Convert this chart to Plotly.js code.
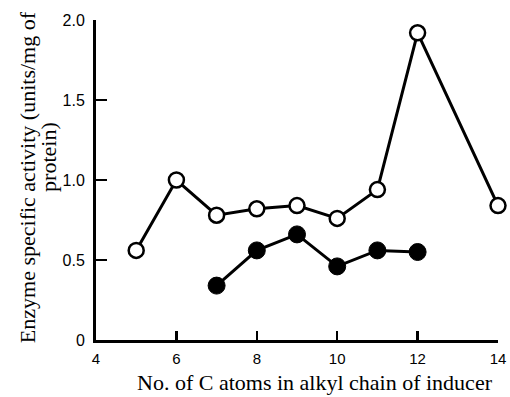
<!DOCTYPE html>
<html>
<head>
<meta charset="utf-8">
<script src="https://cdn.plot.ly/plotly-3.0.1.min.js"></script>
<style>html,body{margin:0;padding:0;background:#fff;}#chart{width:510px;height:397px;}</style>
</head>
<body>
<div id="chart"></div>
<script>
var openX = [5, 6, 7, 8, 9, 10, 11, 12, 14];
var openY = [0.56, 1.00, 0.78, 0.82, 0.84, 0.76, 0.94, 1.92, 0.84];
var filledX = [7, 8, 9, 10, 11, 12];
var filledY = [0.34, 0.56, 0.66, 0.46, 0.56, 0.55];
var xTicks = [4, 6, 8, 10, 12, 14];
var xTickText = ['4', '6', '8', '10', '12', '14'];
var yTicks = [0, 0.5, 1.0, 1.5, 2.0];
var yTickText = ['0', '0.5', '1.0', '1.5', '2.0'];
var xTitle = 'No. of C atoms in alkyl chain of inducer';
var yTitleLine1 = 'Enzyme specific activity (units/mg of';
var yTitleLine2 = 'protein)';

var serif = 'Liberation Serif, Times New Roman, serif';
var sans = 'Liberation Sans, Arial, sans-serif';

var traces = [
  {x: openX, y: openY, mode: 'lines+markers', type: 'scatter',
   line: {color: '#000', width: 3},
   marker: {symbol: 'circle', size: 15, color: '#fff', line: {color: '#000', width: 2.5}},
   showlegend: false, cliponaxis: false},
  {x: filledX, y: filledY, mode: 'lines+markers', type: 'scatter',
   line: {color: '#000', width: 3},
   marker: {symbol: 'circle', size: 17, color: '#000', line: {color: '#000', width: 1}},
   showlegend: false, cliponaxis: false}
];

var layout = {
  width: 510, height: 397,
  margin: {l: 96, r: 12, t: 20, b: 57},
  paper_bgcolor: '#fff', plot_bgcolor: '#fff',
  showlegend: false,
  xaxis: {
    range: [4, 14], tickvals: xTicks, ticktext: xTickText,
    showgrid: false, zeroline: false, showline: true, linecolor: '#000', linewidth: 3,
    ticks: 'inside', ticklen: 9, tickwidth: 2.5, tickcolor: '#000',
    ticklabelstandoff: 3,
    tickfont: {family: sans, size: 15, color: '#000'},
    fixedrange: true
  },
  yaxis: {
    range: [0, 2.0], tickvals: yTicks, ticktext: yTickText,
    showgrid: false, zeroline: false, showline: true, linecolor: '#000', linewidth: 3,
    ticks: 'inside', ticklen: 11, tickwidth: 2.5, tickcolor: '#000',
    ticklabelstandoff: 5,
    tickfont: {family: sans, size: 16, color: '#000'},
    fixedrange: true
  },
  annotations: [
    {text: xTitle, xref: 'paper', yref: 'paper', x: 0.545, y: -0.134,
     xanchor: 'center', yanchor: 'middle', showarrow: false,
     font: {family: serif, size: 22, color: '#000'}},
    {text: yTitleLine1, xref: 'paper', yref: 'paper', x: -0.1716, y: 0.509,
     xanchor: 'center', yanchor: 'middle', showarrow: false, textangle: -90,
     font: {family: serif, size: 22, color: '#000'}},
    {text: yTitleLine2, xref: 'paper', yref: 'paper', x: -0.117, y: 0.572,
     xanchor: 'center', yanchor: 'middle', showarrow: false, textangle: -90,
     font: {family: serif, size: 22, color: '#000'}}
  ]
};

Plotly.newPlot('chart', traces, layout, {staticPlot: true, displayModeBar: false});
</script>
</body>
</html>
